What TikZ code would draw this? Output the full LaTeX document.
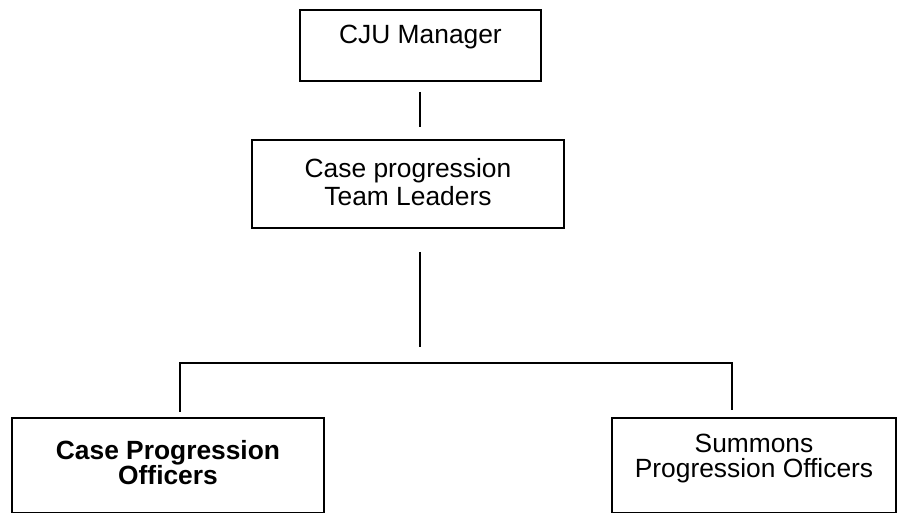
\documentclass[tikz,border=0pt]{standalone}
\usepackage{fontspec}
\setmainfont{Liberation Sans}
\usepackage{tikz}
\usetikzlibrary{positioning}

\begin{document}
\begin{tikzpicture}[
		every node/.style={text=black},
		caja/.style={draw, line width=1pt, inner sep=0pt, align=center, anchor=north,
			font=\fontsize{15pt}{16pt}\selectfont},
		linea/.style={line width=1pt}
		]
		\useasboundingbox (0,0) rectangle (17.94,10.26);
		
		% Cajas
		\node[caja, minimum width=4.82cm, text height=0.68cm, text depth=0.74cm] (jefe) at (8.41,10.08) {CJU Manager};
		\node[caja, minimum width=6.24cm, text height=1.32cm, text depth=0.44cm,
			font=\fontsize{15pt}{16.4pt}\selectfont] (lideres) at (8.16,7.48) {Case progression\\Team Leaders};
		\node[caja, minimum width=6.24cm, text height=1.34cm, text depth=0.56cm,
			font=\bfseries\fontsize{15pt}{14.7pt}\selectfont] (casos) at (3.36,1.92) {Case Progression\\Officers};
		\node[caja, minimum width=5.68cm, text height=1.20cm, text depth=0.70cm,
			font=\fontsize{15pt}{14.2pt}\selectfont] (citas) at (15.08,1.92) {Summons\\Progression Officers};
		
		% Puntos de las lineas
		\coordinate (j1) at (8.40,8.42);
		\coordinate (j2) at (8.40,7.72);
		\coordinate (l1) at (8.40,5.22);
		\coordinate (l2) at (8.40,3.32);
		\coordinate (ci) at (3.60,3.00);
		\coordinate (cd) at (14.64,3.00);
		
		% Lineas
		\draw[linea] (j1) -- (j2);
		\draw[linea] (l1) -- (l2);
		\draw[linea] (ci |- casos.north) ++(0,0.1) -- (ci) -- (cd) -- ++(0,-0.94);
	\end{tikzpicture}
\end{document}
